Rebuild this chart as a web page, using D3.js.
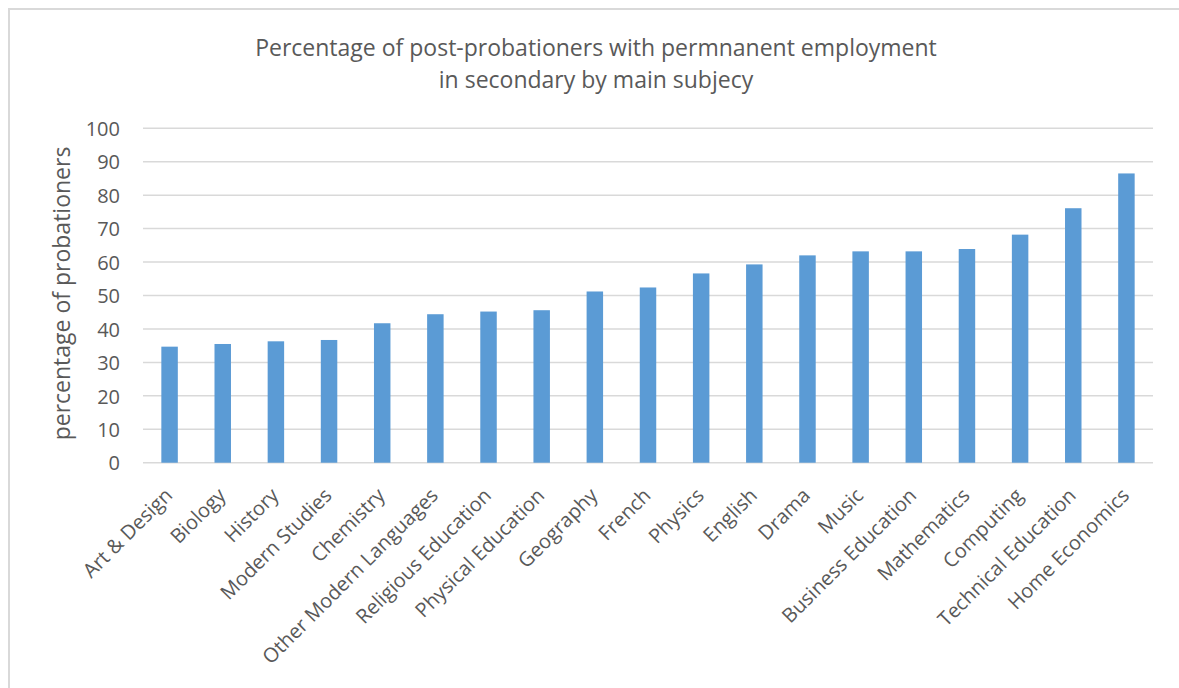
<!DOCTYPE html>
<html>
<head>
<meta charset="utf-8">
<script src="https://cdn.jsdelivr.net/npm/d3@7"></script>
<style>
  html, body { margin: 0; padding: 0; background: #fff; }
  svg { display: block; }
</style>
</head>
<body>
<svg id="chart" width="1179" height="688"></svg>
<script>
const categories = ["Art & Design", "Biology", "History", "Modern Studies", "Chemistry",
  "Other Modern Languages", "Religious Education", "Physical Education", "Geography",
  "French", "Physics", "English", "Drama", "Music", "Business Education", "Mathematics",
  "Computing", "Technical Education", "Home Economics"];
const values = [34.7, 35.5, 36.3, 36.7, 41.7, 44.4, 45.2, 45.6, 51.2, 52.4, 56.6, 59.3,
  62.0, 63.2, 63.2, 63.9, 68.2, 76.1, 86.5];
const yTicks = [0, 10, 20, 30, 40, 50, 60, 70, 80, 90, 100];
const titleLines = ["Percentage of post-probationers with permnanent employment",
  "in secondary by main subjecy"];
const yTitle = "percentage of probationers";

(function () {
const svg = d3.select("#chart");
const font = "'Open Sans', 'Noto Sans', sans-serif";
const grey = "#595959";

// chart area border (top and left visible)
svg.append("line").attr("x1", 9).attr("x2", 1179).attr("y1", 9).attr("y2", 9)
  .attr("stroke", "#d9d9d9").attr("stroke-width", 2);
svg.append("line").attr("x1", 9).attr("x2", 9).attr("y1", 8).attr("y2", 688)
  .attr("stroke", "#d9d9d9").attr("stroke-width", 2);

const pLeft = 143, pRight = 1153, pTop = 128.3, pBottom = 462.7;
const x = d3.scaleBand().domain(categories).range([pLeft, pRight]).paddingInner(0.69).paddingOuter(0.345);
const y = d3.scaleLinear().domain([0, 100]).range([pBottom, pTop]);

// gridlines
svg.append("g").selectAll("line").data(yTicks).join("line")
  .attr("x1", pLeft).attr("x2", pRight)
  .attr("y1", d => y(d)).attr("y2", d => y(d))
  .attr("stroke", "#d9d9d9").attr("stroke-width", 1.5);

// y axis labels
const yAxis = d3.axisLeft(y).tickValues(yTicks).tickSize(0).tickPadding(0);
const gy = svg.append("g").attr("transform", `translate(${pLeft - 23},0)`).call(yAxis);
gy.select(".domain").remove();
gy.selectAll("text").attr("font-family", font).attr("font-size", 20).attr("fill", grey)
  .attr("dy", "0.36em");

// bars
svg.append("g").selectAll("rect").data(values).join("rect")
  .attr("x", (d, i) => x(categories[i]))
  .attr("width", x.bandwidth())
  .attr("y", d => y(d))
  .attr("height", d => y(0) - y(d))
  .attr("fill", "#5b9bd5");

// x axis labels
const xAxis = d3.axisBottom(x).tickSize(0).tickPadding(0);
const gx = svg.append("g").attr("transform", `translate(0,${pBottom})`).call(xAxis);
gx.select(".domain").remove();
gx.selectAll("text")
  .attr("font-family", font).attr("font-size", 20).attr("fill", grey)
  .attr("text-anchor", "end")
  .attr("dy", null).attr("y", 0)
  .attr("transform", "translate(4,34) rotate(-45)");

// title
svg.append("g").selectAll("text").data(titleLines).join("text")
  .attr("x", 596).attr("y", (d, i) => 56 + i * 32)
  .attr("text-anchor", "middle")
  .attr("font-family", font).attr("font-size", 23).attr("fill", grey)
  .text(d => d);

// y title
svg.append("text")
  .attr("transform", `translate(70,293.5) rotate(-90)`)
  .attr("text-anchor", "middle")
  .attr("font-family", font).attr("font-size", 23).attr("fill", grey)
  .text(yTitle);
})();
</script>
</body>
</html>
